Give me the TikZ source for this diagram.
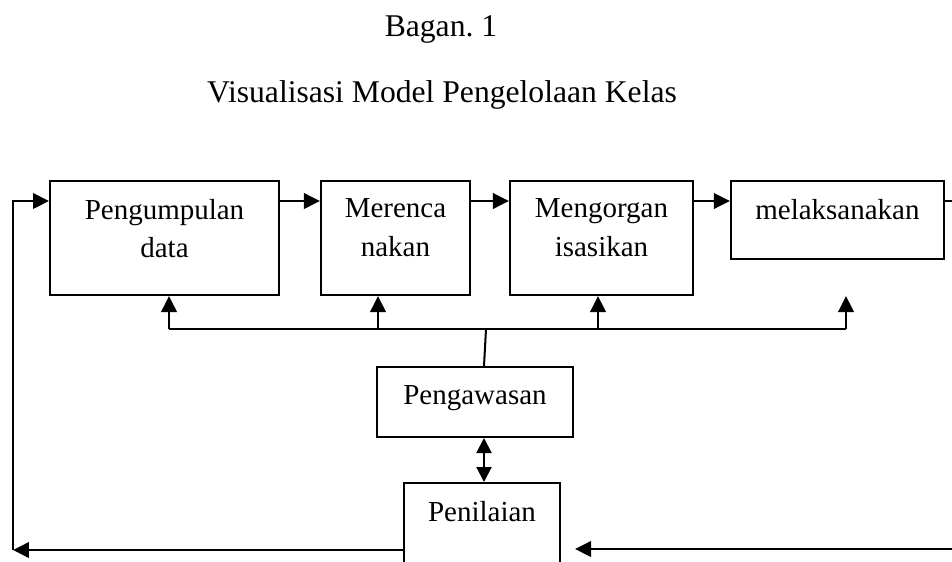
\documentclass[tikz,border=0pt]{standalone}
\usepackage{fontspec}
\setmainfont{Liberation Serif}
\usetikzlibrary{arrows.meta, positioning}

\begin{document}
\begin{tikzpicture}[x=0.02cm, y=-0.02cm, line width=1.15pt,
    every node/.style={inner sep=0pt, font=\fontsize{16.5pt}{22pt}\selectfont},
    kotak/.style={draw, rectangle, minimum height=2.28cm},
    judul/.style={anchor=base, font=\fontsize{18pt}{22pt}\selectfont},
    panah/.style={-{Triangle[length=0.32cm, width=0.31cm]}},
    dua/.style={{Triangle[length=0.3cm, width=0.3cm]}-{Triangle[length=0.3cm, width=0.3cm]}}]
                \useasboundingbox (0,0) rectangle (952,561);
                \clip (0,0) rectangle (952,561);
                \node[judul](bagan) at (441,36){Bagan.\ 1};
                \node[judul](visual) at (442,102){Visualisasi Model Pengelolaan Kelas};
                \coordinate (atas) at (0,201);
                \node[kotak, minimum width=4.58cm](kumpul) at (164.5,238){};
                \node[kotak, minimum width=2.98cm, right=0.8cm of kumpul](rencana){};
                \node[kotak, minimum width=3.66cm, right=0.76cm of rencana](organ){};
                \node[kotak, minimum width=4.26cm, minimum height=1.56cm, right=0.72cm of organ.north east, anchor=north west](laksana){};
                \node[below=0.36cm of kumpul.north, align=center](tkumpul){Pengumpulan\\data};
                \node[below=0.36cm of rencana.north, align=center](trencana){Merenca\\nakan};
                \node[below=0.36cm of organ.north, align=center](torgan){Mengorgan\\isasikan};
                \node[below=0.36cm of laksana.north](tlaksana){melaksanakan};
                \node[kotak, minimum width=3.92cm, minimum height=1.4cm](awas) at (475,402){};
                \node[below=0.37cm of awas.north](tawas){Pengawasan};
                \node[kotak, minimum width=3.12cm, minimum height=2.34cm](nilai) at (482,541.5){};
                \node[below=0.36cm of nilai.north](tnilai){Penilaian};
                % baris atas
                \coordinate (ujung) at (952,201);
                \draw[panah] (kumpul.east |- atas) -- (rencana.west |- atas);
                \draw[panah] (rencana.east |- atas) -- (organ.west |- atas);
                \draw[panah] (organ.east |- atas) -- (laksana.west |- atas);
                \draw[-] (laksana.east |- atas) -- (ujung);
                % pengawasan ke atas
                \coordinate (bus1) at (169,329);
                \coordinate (bus2) at (378,329);
                \coordinate (bus3) at (598,329);
                \coordinate (bus4) at (846,329);
                \coordinate (cabang) at (486,329);
                \coordinate (bawahlaksana) at (846,296);
                \draw[-] (bus1) -- (bus4);
                \draw[panah] (bus1) -- (bus1 |- kumpul.south);
                \draw[panah] (bus2) -- (bus2 |- rencana.south);
                \draw[panah] (bus3) -- (bus3 |- organ.south);
                \draw[panah] (bus4) -- (bawahlaksana);
                \draw[-] ([xshift=0.18cm]awas.north) -- (cabang);
                \draw[dua] ([xshift=0.18cm]awas.south) -- ([xshift=0.18cm]awas.south |- nilai.north);
                % umpan balik
                \coordinate (sudut) at (13,550);
                \coordinate (kanan) at (952,549);
                \draw[panah] (nilai.west |- sudut) -- (sudut);
                \draw[panah] (sudut) |- (kumpul.west |- atas);
                \draw[panah] (kanan) -- ([xshift=0.28cm]nilai.east |- kanan);
            \end{tikzpicture}
\end{document}
